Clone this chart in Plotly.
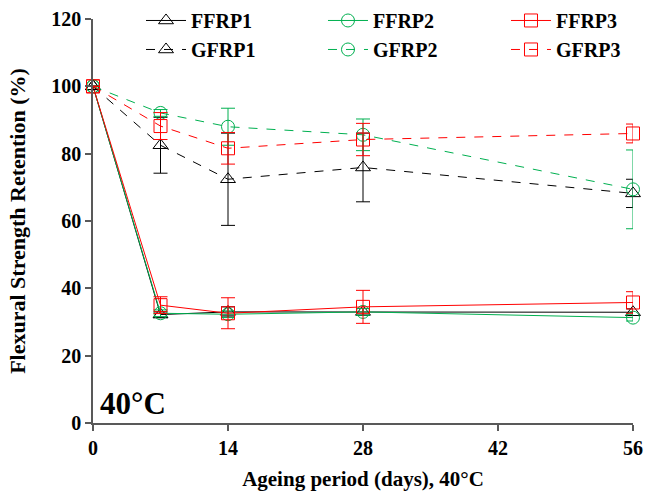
import plotly.graph_objects as go

days = [0, 7, 14, 28, 56]

ffrp1 = [100, 32.2, 33.0, 33.0, 32.9]
ffrp1_err = [0, 0.8, 1.5, 1.0, 1.0]
ffrp2 = [100, 32.6, 32.3, 33.0, 31.3]
ffrp2_err = [0, 1.0, 1.0, 1.0, 1.0]
ffrp3 = [100, 35.0, 32.6, 34.5, 35.8]
ffrp3_err = [0, 2.5, 4.6, 4.9, 3.2]

gfrp1 = [100, 82.5, 72.4, 75.9, 68.2]
gfrp1_err = [0, 8.3, 13.7, 10.2, 4.2]
gfrp2 = [100, 92.1, 88.0, 85.6, 69.4]
gfrp2_err = [0, 1.0, 5.5, 4.7, 11.7]
gfrp3 = [100, 88.2, 81.6, 84.2, 86.0]
gfrp3_err = [0, 4.0, 4.7, 4.8, 2.8]

x_ticks = [0, 14, 28, 42, 56]
y_ticks = [0, 20, 40, 60, 80, 100, 120]

BLACK = "#000000"
GREEN = "#00B050"
RED = "#FF0000"
FONT = "Liberation Serif"

series = [
    ("FFRP1", ffrp1, ffrp1_err, BLACK, "triangle-up-open", "solid", "legend"),
    ("FFRP2", ffrp2, ffrp2_err, GREEN, "circle-open", "solid", "legend2"),
    ("FFRP3", ffrp3, ffrp3_err, RED, "square-open", "solid", "legend3"),
    ("GFRP1", gfrp1, gfrp1_err, BLACK, "triangle-up-open", "dash", "legend"),
    ("GFRP2", gfrp2, gfrp2_err, GREEN, "circle-open", "dash", "legend2"),
    ("GFRP3", gfrp3, gfrp3_err, RED, "square-open", "dash", "legend3"),
]

fig = go.Figure()
for name, vals, err, color, sym, dash, leg in series:
    fig.add_trace(go.Scatter(
        x=days, y=vals, name=name, mode="lines+markers", legend=leg,
        line=dict(color=color, width=1, dash=dash),
        marker=dict(symbol=sym, size=13, color=color, line=dict(width=1, color=color)),
        error_y=dict(type="data", array=err, visible=True, color=color,
                     thickness=1, width=7),
        cliponaxis=False,
    ))

fig.add_annotation(
    x=0.01, y=0.0, xref="paper", yref="paper", xanchor="left", yanchor="bottom",
    text="<b>40°C</b>", showarrow=False,
    font=dict(family=FONT, size=31, color="black"),
)

axis_common = dict(
    showgrid=False, zeroline=False, showline=True, linecolor="#595959", linewidth=1.5,
    ticks="outside", ticklen=6, tickwidth=1.5, tickcolor="#595959",
    tickfont=dict(family=FONT, size=20, color="black", weight="bold"),
)

legend_common = dict(
    orientation="v", y=1.0446, xanchor="left", yanchor="top",
    font=dict(family=FONT, size=20, color="black", weight="bold"),
    bgcolor="rgba(0,0,0,0)", tracegroupgap=0, itemwidth=40,
)

fig.update_layout(
    width=647, height=497,
    margin=dict(l=93, r=14, t=19, b=74, autoexpand=False),
    plot_bgcolor="white", paper_bgcolor="white",
    font=dict(family=FONT, color="black"),
    xaxis=dict(
        range=[0, 56], tickvals=x_ticks,
        title=dict(text="<b>Ageing period (days), 40°C</b>",
                   font=dict(family=FONT, size=21, color="black"), standoff=14),
        **axis_common,
    ),
    yaxis=dict(
        range=[0, 120], tickvals=y_ticks,
        title=dict(text="<b>Flexural Strength Retention (%)</b>",
                   font=dict(family=FONT, size=22, color="black"), standoff=20),
        **axis_common,
    ),
    legend=dict(x=0.0889, **legend_common),
    legend2=dict(x=0.4259, **legend_common),
    legend3=dict(x=0.7648, **legend_common),
    showlegend=True,
)

fig.write_html("out.html")
